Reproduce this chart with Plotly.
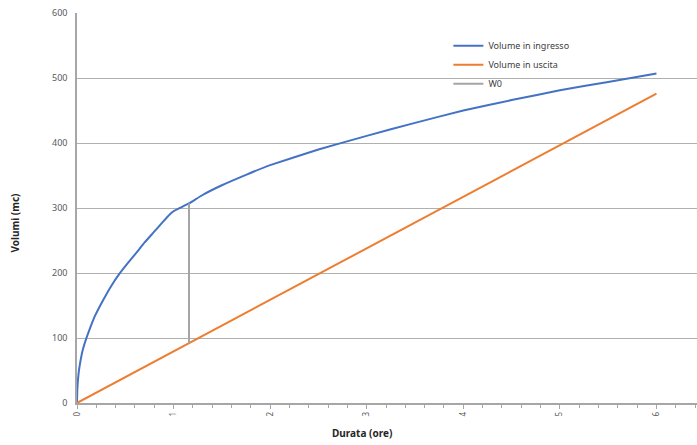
import plotly.graph_objects as go

# Data
t_in = [0, 0.003, 0.01, 0.02, 0.035, 0.06, 0.1, 0.14, 0.18, 0.27, 0.35, 0.44, 0.53, 0.62, 0.7, 0.79, 0.88, 0.96, 1.0, 1.065, 1.16,
        1.3, 1.5, 1.75, 2.0, 2.5, 3.0, 3.5, 4.0, 4.5, 5.0, 5.5, 6.0]
v_in = [0, 20, 36, 50, 64, 82, 101, 117, 132, 158, 179, 199, 216, 232, 247, 262, 277, 290, 295, 300, 307,
        320, 335, 351, 366, 390, 411, 431, 450, 466, 481, 494, 507]

t_out = [0, 6.0]
v_out = [0, 476]

t_w0 = [1.16, 1.16]
v_w0 = [92, 307]

x_ticks = [0, 1, 2, 3, 4, 5, 6]
y_ticks = [0, 100, 200, 300, 400, 500, 600]

x_title = "Durata (ore)"
y_title = "Volumi (mc)"

fig = go.Figure()
fig.add_trace(go.Scatter(x=t_in, y=v_in, mode="lines", name="Volume in ingresso",
                         line=dict(color="#4472C4", width=2, shape="spline", smoothing=0.3)))
fig.add_trace(go.Scatter(x=t_out, y=v_out, mode="lines", name="Volume in uscita",
                         line=dict(color="#ED7D31", width=2)))
fig.add_trace(go.Scatter(x=t_w0, y=v_w0, mode="lines", name="W0",
                         line=dict(color="#A5A5A5", width=2)))

fig.update_layout(
    width=697, height=445,
    margin=dict(l=77, r=0, t=13, b=42),
    paper_bgcolor="white", plot_bgcolor="white",
    font=dict(family="Noto Sans, Liberation Sans, sans-serif", size=9, color="#404040"),
    legend=dict(x=0.599, y=0.953, xanchor="left", yanchor="top",
                bgcolor="rgba(0,0,0,0)", font=dict(size=9, color="#404040")),
    showlegend=True,
    annotations=[
        dict(text="<b>" + x_title + "</b>", xref="x", yref="paper", x=2.95, y=-0.077,
             xanchor="center", yanchor="middle", showarrow=False,
             font=dict(size=10, color="#262626")),
        dict(text="<b>" + y_title + "</b>", xref="paper", yref="y", x=-0.1, y=276,
             xanchor="center", yanchor="middle", showarrow=False, textangle=-90,
             font=dict(size=10, color="#262626")),
    ],
)
fig.update_xaxes(
    range=[0, 6.42], tickvals=x_ticks, ticktext=[str(v) for v in x_ticks],
    tickangle=-90, showgrid=False, zeroline=False, automargin=False,
    showline=True, linecolor="#A6A6A6", linewidth=1.5,
    ticks="outside", ticklen=4, tickcolor="#A6A6A6",
    minor=dict(dtick=0.2, tick0=0, ticks="outside", ticklen=3, tickcolor="#A6A6A6", showgrid=False),
    tickfont=dict(size=8, color="#595959"),
)
fig.update_yaxes(
    range=[0, 600], tickvals=y_ticks, showgrid=True, gridcolor="#B0B0B0", gridwidth=1,
    zeroline=False, showline=True, linecolor="#A6A6A6", linewidth=1.5, automargin=False,
    ticks="", ticklabelstandoff=6,
    tickfont=dict(size=9, color="#595959"),
)

fig.write_html("out.html", config={"displayModeBar": False},
               post_script="document.body.style.margin='0';")
